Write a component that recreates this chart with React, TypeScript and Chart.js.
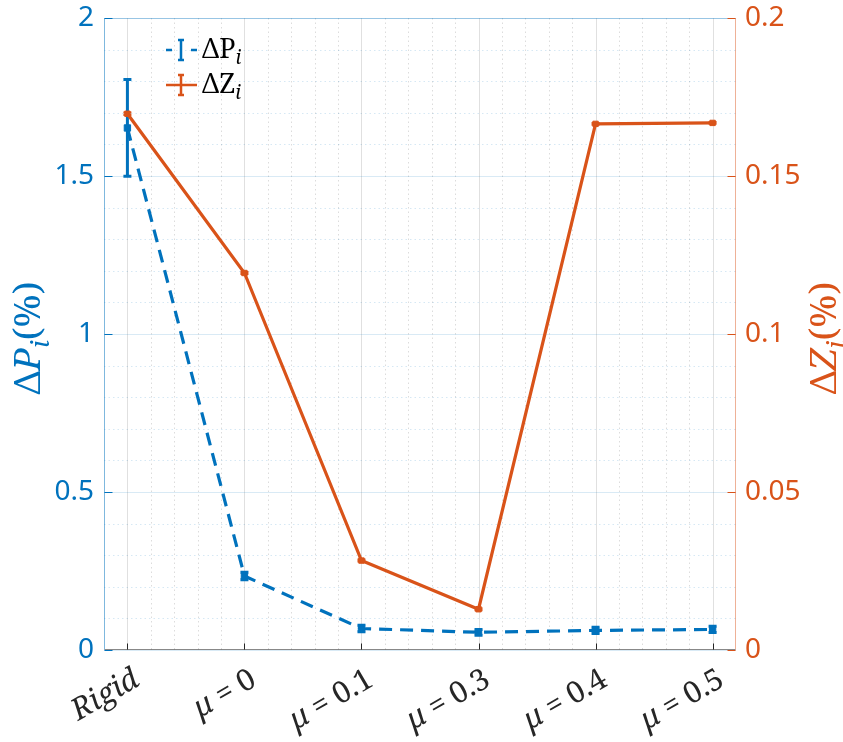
import React, { useEffect, useRef } from 'react';
import { Chart, registerables } from 'chart.js';

Chart.register(...registerables);

// ---------------- data ----------------
const categories = ['Rigid', 'μ = 0', 'μ = 0.1', 'μ = 0.3', 'μ = 0.4', 'μ = 0.5'];
const deltaP = [1.652, 0.234, 0.068, 0.056, 0.062, 0.065];
const deltaPErr = [0.153, 0.012, 0.01, 0.009, 0.01, 0.01];
const deltaZ = [0.1697, 0.1193, 0.0283, 0.0129, 0.1665, 0.1668];
const deltaZErr = [0.0004, 0.0003, 0.0003, 0.0003, 0.0003, 0.0003];
const leftTicks = [0, 0.5, 1, 1.5, 2];
const leftTickLabels = ['0', '0.5', '1', '1.5', '2'];
const rightTicks = [0, 0.05, 0.1, 0.15, 0.2];
const rightTickLabels = ['0', '0.05', '0.1', '0.15', '0.2'];
const legendLabels = ['ΔP', 'ΔZ'];

// ---------------- style ----------------
const BLUE = '#0072BD';
const ORANGE = '#D95319';
const SANS = '"Noto Sans", "DejaVu Sans", sans-serif';
const SERIF = '"Noto Serif", "Liberation Serif", serif';

type Seg = { t: string; it?: boolean; sub?: boolean };

function segFont(s: Seg, size: number) {
  const sz = s.sub ? Math.round(size * 0.7) : size;
  return `${s.it ? 'italic ' : ''}${sz}px ${SERIF}`;
}
function measureSegs(ctx: CanvasRenderingContext2D, segs: Seg[], size: number) {
  let w = 0;
  for (const s of segs) {
    ctx.font = segFont(s, size);
    w += ctx.measureText(s.t).width;
  }
  return w;
}
function drawSegs(ctx: CanvasRenderingContext2D, segs: Seg[], size: number, x: number, y: number) {
  let cx = x;
  ctx.textAlign = 'left';
  ctx.textBaseline = 'alphabetic';
  for (const s of segs) {
    ctx.font = segFont(s, size);
    ctx.fillText(s.t, cx, s.sub ? y + size * 0.24 : y);
    cx += ctx.measureText(s.t).width;
  }
}
function catSegs(label: string): Seg[] {
  if (label.startsWith('μ')) {
    const rest = label.slice(1).replace('=', '').trim();
    return [{ t: 'μ', it: true }, { t: ' = ' }, { t: rest }];
  }
  return [{ t: label, it: true }];
}

function errorBars(chart: any, values: number[], errs: number[], yId: string, color: string, lw: number) {
  const ctx = chart.ctx as CanvasRenderingContext2D;
  const xs = chart.scales.x;
  const ys = chart.scales[yId];
  ctx.save();
  ctx.strokeStyle = color;
  ctx.lineWidth = lw;
  ctx.setLineDash([]);
  values.forEach((v, i) => {
    const x = xs.getPixelForValue(i);
    const y1 = ys.getPixelForValue(v + errs[i]);
    const y2 = ys.getPixelForValue(v - errs[i]);
    ctx.beginPath();
    ctx.moveTo(x, y1);
    ctx.lineTo(x, y2);
    ctx.moveTo(x - 4, y1);
    ctx.lineTo(x + 4, y1);
    ctx.moveTo(x - 4, y2);
    ctx.lineTo(x + 4, y2);
    ctx.stroke();
  });
  ctx.restore();
}

const decorPlugin = {
  id: 'decor',
  beforeDatasetsDraw(chart: any) {
    const ctx = chart.ctx as CanvasRenderingContext2D;
    const { left, right, top, bottom } = chart.chartArea;
    const xs = chart.scales.x;
    const yl = chart.scales.yL;
    ctx.save();
    ctx.lineWidth = 1;
    ctx.setLineDash([1.5, 3]);
    ctx.strokeStyle = 'rgba(38,38,38,0.16)';
    for (let k = 1; k <= 26; k++) {
      const v = -0.2 + k * 0.2;
      if (Math.abs(v - Math.round(v)) < 1e-6) continue;
      const x = Math.round(xs.getPixelForValue(v)) + 0.5;
      ctx.beginPath();
      ctx.moveTo(x, top);
      ctx.lineTo(x, bottom);
      ctx.stroke();
    }
    ctx.strokeStyle = 'rgba(0,114,189,0.16)';
    for (let k = 1; k < 20; k++) {
      if (k % 5 === 0) continue;
      const y = Math.round(yl.getPixelForValue(k * 0.1)) + 0.5;
      ctx.beginPath();
      ctx.moveTo(left, y);
      ctx.lineTo(right, y);
      ctx.stroke();
    }
    ctx.setLineDash([]);
    ctx.strokeStyle = 'rgba(38,38,38,0.14)';
    categories.forEach((_, i) => {
      const x = Math.round(xs.getPixelForValue(i)) + 0.5;
      ctx.beginPath();
      ctx.moveTo(x, top);
      ctx.lineTo(x, bottom);
      ctx.stroke();
    });
    ctx.strokeStyle = 'rgba(0,114,189,0.15)';
    leftTicks.forEach((v) => {
      const y = Math.round(yl.getPixelForValue(v)) + 0.5;
      ctx.beginPath();
      ctx.moveTo(left, y);
      ctx.lineTo(right, y);
      ctx.stroke();
    });
    ctx.restore();
  },
  afterDatasetDraw(chart: any, args: any) {
    if (args.index === 0) errorBars(chart, deltaP, deltaPErr, 'yL', BLUE, 3);
    if (args.index === 1) errorBars(chart, deltaZ, deltaZErr, 'yR', ORANGE, 2);
  },
  afterDraw(chart: any) {
    const ctx = chart.ctx as CanvasRenderingContext2D;
    const { left, right, top, bottom } = chart.chartArea;
    const xs = chart.scales.x;
    const yl = chart.scales.yL;
    const yr = chart.scales.yR;
    ctx.save();
    ctx.setLineDash([]);
    ctx.lineWidth = 1;
    const L = Math.round(left) + 0.5;
    const R = Math.round(right) - 0.5;
    const T = Math.round(top) + 0.5;
    const B = Math.round(bottom) - 0.5;
    ctx.strokeStyle = 'rgba(0,114,189,0.3)';
    ctx.beginPath(); ctx.moveTo(L, T); ctx.lineTo(R, T); ctx.stroke();
    ctx.strokeStyle = 'rgba(38,38,38,0.55)';
    ctx.beginPath(); ctx.moveTo(L, B); ctx.lineTo(R, B); ctx.stroke();
    ctx.strokeStyle = 'rgba(0,114,189,0.5)';
    ctx.beginPath(); ctx.moveTo(L, T); ctx.lineTo(L, B); ctx.stroke();
    ctx.strokeStyle = 'rgba(217,83,25,0.45)';
    ctx.beginPath(); ctx.moveTo(R, T); ctx.lineTo(R, B); ctx.stroke();
    ctx.strokeStyle = BLUE;
    leftTicks.forEach((v) => {
      const y = Math.round(yl.getPixelForValue(v)) + 0.5;
      ctx.beginPath(); ctx.moveTo(L, y); ctx.lineTo(L + 8, y); ctx.stroke();
    });
    ctx.strokeStyle = ORANGE;
    rightTicks.forEach((v) => {
      const y = Math.round(yr.getPixelForValue(v)) + 0.5;
      ctx.beginPath(); ctx.moveTo(R, y); ctx.lineTo(R - 8, y); ctx.stroke();
    });
    ctx.strokeStyle = '#262626';
    categories.forEach((_, i) => {
      const x = Math.round(xs.getPixelForValue(i)) + 0.5;
      ctx.beginPath(); ctx.moveTo(x, B); ctx.lineTo(x, B - 6); ctx.stroke();
    });

    // x tick labels (rotated, LaTeX-like)
    ctx.fillStyle = '#262626';
    const xsz = 30;
    categories.forEach((c, i) => {
      const segs = catSegs(c);
      const w = measureSegs(ctx, segs, xsz);
      ctx.save();
      ctx.translate(xs.getPixelForValue(i) + 9, bottom + 27);
      ctx.rotate(-Math.PI / 6);
      drawSegs(ctx, segs, xsz, -w, xsz * 0.3);
      ctx.restore();
    });

    // axis titles
    const tsz = 37;
    const cy = (top + bottom) / 2 + 4;
    const lt: Seg[] = [{ t: 'Δ' }, { t: 'P', it: true }, { t: 'i', it: true, sub: true }, { t: '(%)' }];
    const rt: Seg[] = [{ t: 'Δ' }, { t: 'Z', it: true }, { t: 'i', it: true, sub: true }, { t: '(%)' }];
    ctx.fillStyle = BLUE;
    let w = measureSegs(ctx, lt, tsz);
    ctx.save();
    ctx.translate(40, cy);
    ctx.rotate(-Math.PI / 2);
    drawSegs(ctx, lt, tsz, -w / 2, 0);
    ctx.restore();
    ctx.fillStyle = ORANGE;
    w = measureSegs(ctx, rt, tsz);
    ctx.save();
    ctx.translate(836, cy);
    ctx.rotate(-Math.PI / 2);
    drawSegs(ctx, rt, tsz, -w / 2, 0);
    ctx.restore();

    // legend
    const lx0 = 166, lx1 = 197, lxc = 181;
    const rows = [
      { y: 50, color: BLUE, dashed: true, label: legendLabels[0] },
      { y: 85, color: ORANGE, dashed: false, label: legendLabels[1] },
    ];
    rows.forEach((r) => {
      ctx.strokeStyle = r.color;
      ctx.lineWidth = 2.5;
      ctx.beginPath();
      if (r.dashed) {
        ctx.moveTo(lx0, r.y); ctx.lineTo(lx0 + 6, r.y);
        ctx.moveTo(lx1 - 6, r.y); ctx.lineTo(lx1, r.y);
      } else {
        ctx.moveTo(lx0, r.y); ctx.lineTo(lx1, r.y);
      }
      ctx.stroke();
      ctx.beginPath();
      ctx.moveTo(lxc, r.y - 10); ctx.lineTo(lxc, r.y + 10);
      ctx.moveTo(lxc - 3, r.y - 10); ctx.lineTo(lxc + 3, r.y - 10);
      ctx.moveTo(lxc - 3, r.y + 10); ctx.lineTo(lxc + 3, r.y + 10);
      ctx.stroke();
      ctx.fillStyle = '#000';
      drawSegs(ctx, [{ t: r.label }, { t: 'i', it: true, sub: true }], 27, 202, r.y + 8);
    });
    ctx.restore();
  },
};

export default function App() {
  const ref = useRef<HTMLCanvasElement | null>(null);
  useEffect(() => {
    if (!ref.current) return;
    const chart = new Chart(ref.current, {
      type: 'line',
      data: {
        datasets: [
          {
            label: 'ΔP',
            data: deltaP.map((v, i) => ({ x: i, y: v })),
            yAxisID: 'yL',
            borderColor: BLUE,
            backgroundColor: BLUE,
            borderWidth: 3.2,
            borderDash: [13, 8],
            pointStyle: 'rect',
            pointRadius: 4.5,
            pointBorderWidth: 1,
            pointBorderColor: BLUE,
            pointBackgroundColor: BLUE,
            order: 2,
          },
          {
            label: 'ΔZ',
            data: deltaZ.map((v, i) => ({ x: i, y: v })),
            yAxisID: 'yR',
            borderColor: ORANGE,
            backgroundColor: ORANGE,
            borderWidth: 3.2,
            pointStyle: 'rect',
            pointRadius: 3.8,
            pointBorderWidth: 1,
            pointBorderColor: ORANGE,
            pointBackgroundColor: ORANGE,
            order: 1,
          },
        ],
      },
      options: {
        animation: false,
        responsive: false,
        maintainAspectRatio: false,
        layout: { padding: { top: 18, left: 0, right: 0, bottom: 0 } },
        plugins: { legend: { display: false }, tooltip: { enabled: false } },
        scales: {
          x: {
            type: 'linear',
            min: -0.2,
            max: 5.2,
            ticks: { display: false },
            grid: { display: false, drawTicks: false },
            border: { display: false },
            afterFit: (s: any) => { s.height = 92; s.paddingLeft = 0; s.paddingRight = 0; },
          },
          yL: {
            type: 'linear',
            position: 'left',
            min: 0,
            max: 2,
            afterBuildTicks: (s: any) => { s.ticks = leftTicks.map((v) => ({ value: v })); },
            ticks: {
              color: BLUE,
              padding: 10,
              font: { family: SANS, size: 28 },
              callback: (_v: any, i: number) => leftTickLabels[i],
            },
            grid: { display: false, drawTicks: false },
            border: { display: false },
            afterFit: (s: any) => { s.width = 104; s.paddingTop = 0; s.paddingBottom = 0; },
          },
          yR: {
            type: 'linear',
            position: 'right',
            min: 0,
            max: 0.2,
            afterBuildTicks: (s: any) => { s.ticks = rightTicks.map((v) => ({ value: v })); },
            ticks: {
              color: ORANGE,
              padding: 9,
              font: { family: SANS, size: 28 },
              callback: (_v: any, i: number) => rightTickLabels[i],
            },
            grid: { display: false, drawTicks: false },
            border: { display: false },
            afterFit: (s: any) => { s.width = 107; s.paddingTop = 0; s.paddingBottom = 0; },
          },
        },
      },
      plugins: [decorPlugin],
    } as any);
    return () => chart.destroy();
  }, []);
  return (
    <div style={{ position: 'absolute', left: 0, top: 0, width: 843, height: 742, background: '#fff' }}>
      <canvas ref={ref} width={843} height={742} style={{ width: 843, height: 742 }} />
    </div>
  );
}
